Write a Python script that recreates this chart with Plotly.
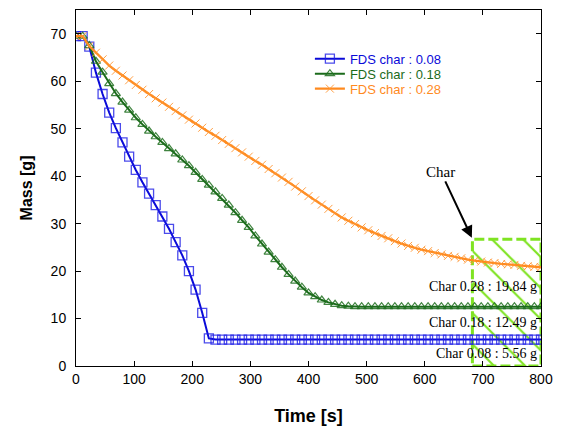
import plotly.graph_objects as go

# time grid (s): 71 samples between 0 and 800 s
time_s = [round(800 * i / 70, 2) for i in range(71)]

mass_008 = [69.5, 69.5, 67.3, 61.8, 57.3, 53.4, 50.1, 47.1, 44.1, 41.3,
            38.7, 36.3, 33.9, 31.5, 28.9, 26.1, 23.3, 20.0, 16.1, 11.2,
            5.8] + [5.56] * 50

mass_018 = [69.5, 69.5, 67.5, 64.2, 61.9, 59.5, 57.4, 55.6, 53.9, 52.3,
            50.9, 49.5, 48.3, 47.1, 45.8, 44.7, 43.4, 42.2, 40.8, 39.3,
            38.1, 36.7, 35.3, 33.9, 32.3, 30.7, 29.2, 27.4, 25.7, 24.0,
            22.4, 20.8, 19.3, 17.9, 16.6, 15.4, 14.6, 13.9, 13.4, 13.0,
            12.7, 12.6, 12.5] + [12.49] * 28

mass_028 = [69.5, 69.5, 67.4, 66.0, 64.6, 63.3, 62.2, 61.2, 60.2, 59.2,
            58.2, 57.3, 56.4, 55.5, 54.6, 53.7, 52.8, 51.9, 51.1, 50.2,
            49.3, 48.5, 47.6, 46.8, 45.9, 45.0, 44.1, 43.2, 42.4, 41.5,
            40.6, 39.7, 38.8, 37.8, 36.8, 35.8, 34.9, 34.0, 33.1, 32.2,
            31.3, 30.6, 29.9, 29.2, 28.6, 28.0, 27.4, 26.9, 26.3, 25.8,
            25.3, 24.9, 24.5, 24.2, 23.8, 23.5, 23.2, 23.0, 22.7, 22.4,
            22.2, 22.0, 21.8, 21.7, 21.5, 21.4, 21.3, 21.1, 21.0, 20.9,
            20.8]

series_names = ["FDS char : 0.08", "FDS char : 0.18", "FDS char : 0.28"]
char_labels = ["Char 0.28 : 19.84 g", "Char 0.18 : 12.49 g", "Char 0.08 : 5.56 g"]
char_label_y = [16.7, 9.2, 2.7]

char_box_x = [682, 800, 800, 682, 682]
char_box_y = [0, 0, 26.7, 26.7, 0]

BLUE = "#0A0AD8"
GREEN = "#1B6B1B"
ORANGE = "#FF8A1E"
LIME = "#7FE322"

fig = go.Figure()

# hatched char box
fig.add_trace(go.Scatter(
    x=char_box_x, y=char_box_y, mode="lines", fill="toself",
    fillcolor="rgba(0,0,0,0)",
    fillpattern=dict(shape="\\", fgcolor=LIME, bgcolor="rgba(0,0,0,0)",
                     fgopacity=1, size=22, solidity=0.1),
    line=dict(color=LIME, width=3, dash="10px,4px"),
    showlegend=False, hoverinfo="skip"))

fig.add_trace(go.Scatter(
    x=time_s, y=mass_008, mode="lines+markers", legend="legend",
    name=f"<span style='color:{BLUE}'>{series_names[0]}</span>",
    line=dict(color=BLUE, width=2),
    marker=dict(symbol="square-open", size=9, color="rgba(30,30,230,0.8)",
                line=dict(width=1.3))))

fig.add_trace(go.Scatter(
    x=time_s, y=mass_018, mode="lines+markers", legend="legend2",
    name=f"<span style='color:{GREEN}'>{series_names[1]}</span>",
    line=dict(color=GREEN, width=2),
    marker=dict(symbol="triangle-up-open", size=8, color="rgba(30,110,30,0.85)",
                line=dict(width=1.2))))

fig.add_trace(go.Scatter(
    x=time_s, y=mass_028, mode="lines+markers", legend="legend3",
    name=f"<span style='color:{ORANGE}'>{series_names[2]}</span>",
    line=dict(color=ORANGE, width=2.3),
    marker=dict(symbol="x-thin-open", size=8, color="rgba(255,150,50,0.9)",
                line=dict(width=1))))

# "Char" arrow annotation
fig.add_annotation(x=681, y=27.0, xref="x", yref="y", text="Char",
                   showarrow=True, ax=-31, ay=-66, arrowhead=2, arrowsize=1.2,
                   arrowwidth=2, arrowcolor="black",
                   font=dict(family="Liberation Serif, Times New Roman", size=15, color="black"))

for lab, yy in zip(char_labels, char_label_y):
    fig.add_annotation(x=796, y=yy, xref="x", yref="y", text=lab, showarrow=False,
                       xanchor="right", yanchor="middle",
                       font=dict(family="Liberation Serif, Times New Roman", size=14, color="black"))

axis_common = dict(showline=True, linecolor="black", linewidth=1, mirror="ticks",
                   ticks="inside", ticklen=5, tickcolor="black", showgrid=False,
                   zeroline=False, tickfont=dict(family="Arial, Liberation Sans", size=14, color="black"))

fig.update_xaxes(range=[0, 800], tickvals=[0, 100, 200, 300, 400, 500, 600, 700, 800],
                 title=dict(text="<b>Time [s]</b>", font=dict(family="Arial, Liberation Sans", size=18, color="black"),
                            standoff=23),
                 **axis_common)
fig.update_yaxes(range=[0, 75], tickvals=[0, 10, 20, 30, 40, 50, 60, 70],
                 ticklabelstandoff=6,
                 title=dict(text="<b>Mass [g]</b>", font=dict(family="Arial, Liberation Sans", size=16, color="black"),
                            standoff=14),
                 **axis_common)

leg_common = dict(xanchor="left", yanchor="middle", bgcolor="rgba(0,0,0,0)",
                  font=dict(family="Arial, Liberation Sans", size=13), itemwidth=30)
leg_x = 0.503
fig.update_layout(
    width=563, height=431,
    margin=dict(l=76, r=22, t=9, b=64),
    paper_bgcolor="white", plot_bgcolor="white",
    showlegend=True,
    legend=dict(x=leg_x, y=0.863, **leg_common),
    legend2=dict(x=leg_x, y=0.821, **leg_common),
    legend3=dict(x=leg_x, y=0.779, **leg_common),
)

fig.write_html("out.html", config={"displayModeBar": False},
               post_script="document.body.style.margin='0px';")
